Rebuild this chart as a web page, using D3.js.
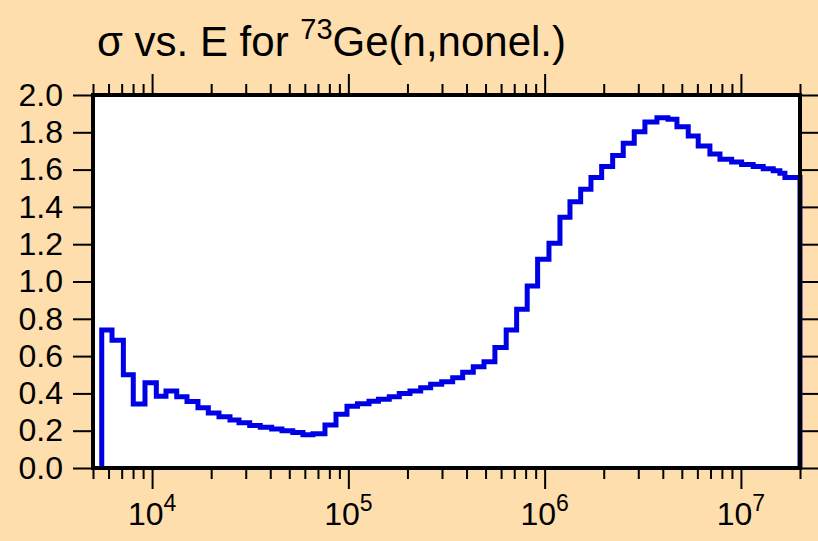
<!DOCTYPE html>
<html>
<head>
	<script src="https://cdn.jsdelivr.net/npm/d3@7"></script>
	<style>
		body { margin: 0; background: #ffdead; }
		text { font-family: "Liberation Sans", Arial, sans-serif; fill: #000; }
	</style>
</head>
<body>
	<script>
		// bin edges (eV) and cross sections (b)
		var edges = [5540, 6250, 7140, 8020, 9200, 10510, 11770, 13350, 15060, 17130,
			19340, 21920, 24940, 27720, 31430, 35580, 40680, 45900, 52100, 58700,
			66000, 76000, 86500, 98400, 111300, 127400, 142300, 161600, 181700, 206000,
			233600, 262600, 298800, 340000, 382300, 432900, 490800, 558000, 637000, 720000,
			815000, 921000, 1052000, 1197000, 1346000, 1526000, 1722000, 1952000, 2221000, 2515000,
			2861000, 3243000, 3734000, 4249000, 4721000, 5391000, 6060000, 6950000, 7820000, 8970000,
			10080000, 11550000, 12990000, 14610000, 15800000, 16760000, 20000000];
		var sigma = [0.74, 0.685, 0.50, 0.343, 0.457, 0.385, 0.413, 0.382, 0.356, 0.323,
			0.295, 0.275, 0.258, 0.242, 0.228, 0.219, 0.209, 0.200, 0.190, 0.178,
			0.184, 0.231, 0.288, 0.331, 0.345, 0.358, 0.368, 0.382, 0.400, 0.413,
			0.430, 0.449, 0.463, 0.484, 0.513, 0.543, 0.570, 0.646, 0.740, 0.851,
			0.976, 1.119, 1.205, 1.344, 1.428, 1.494, 1.557, 1.616, 1.675, 1.741,
			1.803, 1.855, 1.878, 1.870, 1.830, 1.780, 1.727, 1.684, 1.655, 1.641,
			1.628, 1.616, 1.605, 1.594, 1.580, 1.557];
		var yTicks = [0, 0.2, 0.4, 0.6, 0.8, 1.0, 1.2, 1.4, 1.6, 1.8, 2.0];
		var decades = [4, 5, 6, 7];

		var width = 818, height = 541;
		var pLeft = 93, pRight = 800, pTop = 95, pBottom = 468;

		var svg = d3.select('body').append('svg')
			.attr('width', width)
			.attr('height', height)
			.style('display', 'block')
			.style('background', '#ffdead');

		var x = d3.scaleLog().domain([5000, 2e7]).range([pLeft, pRight]);
		var y = d3.scaleLinear().domain([0, 2]).range([pBottom, pTop]);

		// all log ticks: 5e3..2e7
		var xTicks = [];
		[1e3, 1e4, 1e5, 1e6, 1e7].forEach(function (d) {
			for (var k = 1; k <= 9; k++) {
				var v = d * k;
				if (v >= 5000 && v <= 2e7) xTicks.push(v);
			}
		});
		function isMajor(v) {
			return Math.abs(Math.log10(v) - Math.round(Math.log10(v))) < 1e-9;
		}

		svg.append('rect')
			.attr('x', pLeft).attr('y', pTop)
			.attr('width', pRight - pLeft).attr('height', pBottom - pTop)
			.attr('fill', '#fff');

		// x axes, bottom and top
		var xb = svg.append('g')
			.attr('transform', 'translate(0,' + pBottom + ')')
			.call(d3.axisBottom(x).tickValues(xTicks).tickFormat('').tickSizeOuter(0));
		var xt = svg.append('g')
			.attr('transform', 'translate(0,' + pTop + ')')
			.call(d3.axisTop(x).tickValues(xTicks).tickFormat('').tickSizeOuter(0));
		xb.selectAll('.tick line').attr('y2', function (d) { return isMajor(d) ? 21 : 11; });
		xt.selectAll('.tick line').attr('y2', function (d) { return isMajor(d) ? -21 : -11; });

		// y axes, left and right
		var yl = svg.append('g')
			.attr('transform', 'translate(' + pLeft + ',0)')
			.call(d3.axisLeft(y).tickValues(yTicks).tickFormat(d3.format('.1f'))
				.tickSize(20).tickPadding(10).tickSizeOuter(0));
		var yr = svg.append('g')
			.attr('transform', 'translate(' + pRight + ',0)')
			.call(d3.axisRight(y).tickValues(yTicks).tickFormat('').tickSize(20).tickSizeOuter(0));

		[xb, xt, yl, yr].forEach(function (g) {
			g.select('.domain').remove();
			g.selectAll('.tick line').attr('stroke', '#000').attr('stroke-width', 2);
		});
		yl.selectAll('.tick text')
			.style('font-size', '32px')
			.style('font-family', '"Liberation Sans", Arial, sans-serif');

		// decade labels 10^n
		var lab = svg.append('g').selectAll('text')
			.data(decades).enter().append('text')
			.attr('x', function (d) { return x(Math.pow(10, d)); })
			.attr('y', 525)
			.attr('text-anchor', 'middle')
			.style('font-size', '32px');
		lab.append('tspan').text('10');
		lab.append('tspan').attr('dy', -14).style('font-size', '23px').text(function (d) { return d; });

		// step curve
		var pts = [[edges[0], 0]];
		sigma.forEach(function (s, i) { pts.push([edges[i], s]); });
		pts.push([edges[edges.length - 1], sigma[sigma.length - 1]]);
		pts.push([edges[edges.length - 1], 0]);

		var line = d3.line()
			.x(function (d) { return x(d[0]); })
			.y(function (d) { return y(d[1]); })
			.curve(d3.curveStepAfter);

		svg.append('path')
			.datum(pts)
			.attr('d', line)
			.attr('fill', 'none')
			.attr('stroke', '#0000e6')
			.attr('stroke-width', 5)
			.attr('stroke-linejoin', 'miter');

		// frame
		svg.append('rect')
			.attr('x', pLeft).attr('y', pTop)
			.attr('width', pRight - pLeft).attr('height', pBottom - pTop)
			.attr('fill', 'none')
			.attr('stroke', '#000')
			.attr('stroke-width', 4);

		// title
		var title = svg.append('text')
			.attr('x', 97).attr('y', 56)
			.style('font-size', '42px');
		title.append('tspan').text('\u03c3 vs. E for ');
		title.append('tspan').attr('dy', -17).style('font-size', '29px').text('73');
		title.append('tspan').attr('dy', 17).text('Ge(n,nonel.)');
	</script>
</body>
</html>
